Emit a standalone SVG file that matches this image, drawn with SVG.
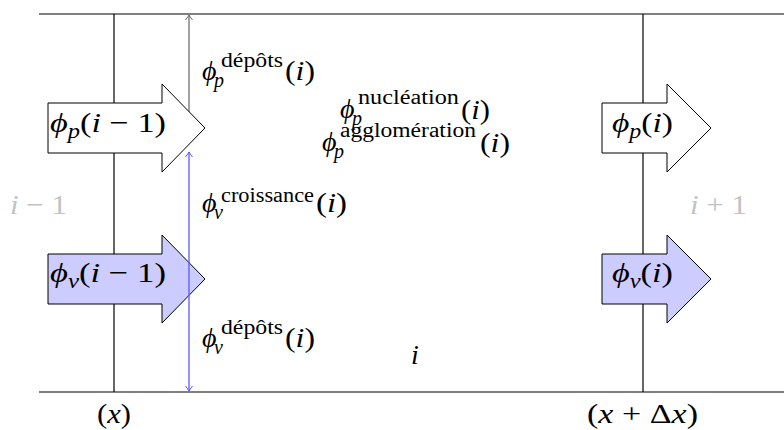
<svg xmlns="http://www.w3.org/2000/svg" width="784" height="430" viewBox="0 0 784 430">
<style>
.m{font-family:"Liberation Serif","DejaVu Serif",serif;font-size:28px;fill:#000}
.s{font-family:"Liberation Serif","DejaVu Serif",serif;font-size:20px;fill:#000}
.sb{font-family:"Liberation Serif","DejaVu Serif",serif;font-size:20px;font-style:italic;fill:#000}
.it{font-style:italic}
.gray{fill:#c2c2c2}
.frame{stroke:#000;stroke-width:1.2;fill:none}
.flux{stroke:#000;stroke-width:1}
.white{fill:#fff}
.violet{fill:#ccccff}
</style>
<defs>
<marker id="hg" viewBox="-6 -5 8 10" markerWidth="8" markerHeight="10" refX="0" refY="0" orient="auto" markerUnits="userSpaceOnUse">
<path d="M-5,-3.5 Q-1.5,-0.8 0,0 Q-1.5,0.8 -5,3.5" fill="none" stroke="#707070" stroke-width="1"/>
</marker>
<marker id="hb" viewBox="-6 -5 8 10" markerWidth="8" markerHeight="10" refX="0" refY="0" orient="auto-start-reverse" markerUnits="userSpaceOnUse">
<path d="M-5,-3.5 Q-1.5,-0.8 0,0 Q-1.5,0.8 -5,3.5" fill="none" stroke="#5a5aff" stroke-width="1"/>
</marker>
</defs>
<g font-family="Liberation Serif, DejaVu Serif, serif">
<g id="frame">
<line class="frame" x1="39" y1="14" x2="784" y2="14"/>
<line class="frame" x1="39" y1="392" x2="784" y2="392"/>
<line class="frame" x1="114" y1="14" x2="114" y2="392" stroke-width="1"/>
<line class="frame" x1="643" y1="14" x2="643" y2="392" stroke-width="1"/>
</g>

<g id="connectors-back">
<line x1="189" y1="128" x2="189" y2="15" stroke="#707070" stroke-width="1.3" marker-end="url(#hg)"/>
</g>

<g id="flux-p-left">
<polygon class="flux white" points="48,103 162,103 162,84 205,128 162,172 162,153 48,153"/>
<text class="m" x="50" y="132" textLength="116" lengthAdjust="spacingAndGlyphs"><tspan class="it">ϕ</tspan><tspan class="sb" dy="6">p</tspan><tspan dy="-6">(</tspan><tspan class="it">i</tspan> − 1)</text>
</g>
<g id="flux-v-left">
<polygon class="flux violet" points="48,254 162,254 162,235 205,279 162,323 162,304 48,304"/>
<text class="m" x="50" y="282" textLength="116" lengthAdjust="spacingAndGlyphs"><tspan class="it">ϕ</tspan><tspan class="sb" dy="6">v</tspan><tspan dy="-6">(</tspan><tspan class="it">i</tspan> − 1)</text>
</g>
<g id="flux-p-right">
<polygon class="flux white" points="602,103 667,103 667,84 711,128 667,172 667,153 602,153"/>
<text class="m" x="612" y="132" textLength="61" lengthAdjust="spacingAndGlyphs"><tspan class="it">ϕ</tspan><tspan class="sb" dy="6">p</tspan><tspan dy="-6">(</tspan><tspan class="it">i</tspan>)</text>
</g>
<g id="flux-v-right">
<polygon class="flux violet" points="602,254 667,254 667,235 711,279 667,323 667,304 602,304"/>
<text class="m" x="612" y="282" textLength="61" lengthAdjust="spacingAndGlyphs"><tspan class="it">ϕ</tspan><tspan class="sb" dy="6">v</tspan><tspan dy="-6">(</tspan><tspan class="it">i</tspan>)</text>
</g>

<g id="connectors">
<line x1="189" y1="152" x2="189" y2="391" stroke="#5a5aff" stroke-width="1.3" marker-start="url(#hb)" marker-end="url(#hb)"/>
</g>

<g id="label-p-depots">
<text class="m it" x="202" y="80">ϕ</text>
<text class="sb" x="214" y="87">p</text>
<text class="s" x="221" y="67" textLength="62" lengthAdjust="spacingAndGlyphs">dépôts</text>
<text class="m" x="285" y="80" textLength="30" lengthAdjust="spacingAndGlyphs">(<tspan class="it">i</tspan>)</text>
</g>
<g id="label-p-nucleation">
<text class="m it" x="340" y="118">ϕ</text>
<text class="sb" x="352" y="125">p</text>
<text class="s" x="358" y="104" textLength="101" lengthAdjust="spacingAndGlyphs">nucléation</text>
<text class="m" x="461" y="119" textLength="29" lengthAdjust="spacingAndGlyphs">(<tspan class="it">i</tspan>)</text>
</g>
<g id="label-p-agglomeration">
<text class="m it" x="322" y="151">ϕ</text>
<text class="sb" x="334" y="158">p</text>
<text class="s" x="340" y="137" textLength="136" lengthAdjust="spacingAndGlyphs">agglomération</text>
<text class="m" x="480" y="152" textLength="30" lengthAdjust="spacingAndGlyphs">(<tspan class="it">i</tspan>)</text>
</g>
<g id="label-v-croissance">
<text class="m it" x="202" y="212">ϕ</text>
<text class="sb" x="214" y="219">v</text>
<text class="s" x="221" y="202" textLength="93" lengthAdjust="spacingAndGlyphs">croissance</text>
<text class="m" x="316" y="212" textLength="31" lengthAdjust="spacingAndGlyphs">(<tspan class="it">i</tspan>)</text>
</g>
<g id="label-v-depots">
<text class="m it" x="202" y="347">ϕ</text>
<text class="sb" x="214" y="354">v</text>
<text class="s" x="221" y="334" textLength="62" lengthAdjust="spacingAndGlyphs">dépôts</text>
<text class="m" x="285" y="347" textLength="30" lengthAdjust="spacingAndGlyphs">(<tspan class="it">i</tspan>)</text>
</g>

<g id="cell-i">
<text class="m it" x="411" y="364">i</text>
</g>
<g id="cell-i-minus-1">
<text class="m gray" x="10" y="214" textLength="57" lengthAdjust="spacingAndGlyphs"><tspan class="it">i</tspan> − 1</text>
</g>
<g id="cell-i-plus-1">
<text class="m gray" x="690" y="214" textLength="57" lengthAdjust="spacingAndGlyphs"><tspan class="it">i</tspan> + 1</text>
</g>
<g id="pos-x">
<text class="m" x="97" y="423" textLength="34" lengthAdjust="spacingAndGlyphs">(<tspan class="it">x</tspan>)</text>
</g>
<g id="pos-x-dx">
<text class="m" x="587" y="423" textLength="111" lengthAdjust="spacingAndGlyphs">(<tspan class="it">x</tspan> + Δ<tspan class="it">x</tspan>)</text>
</g>
</g>
</svg>
